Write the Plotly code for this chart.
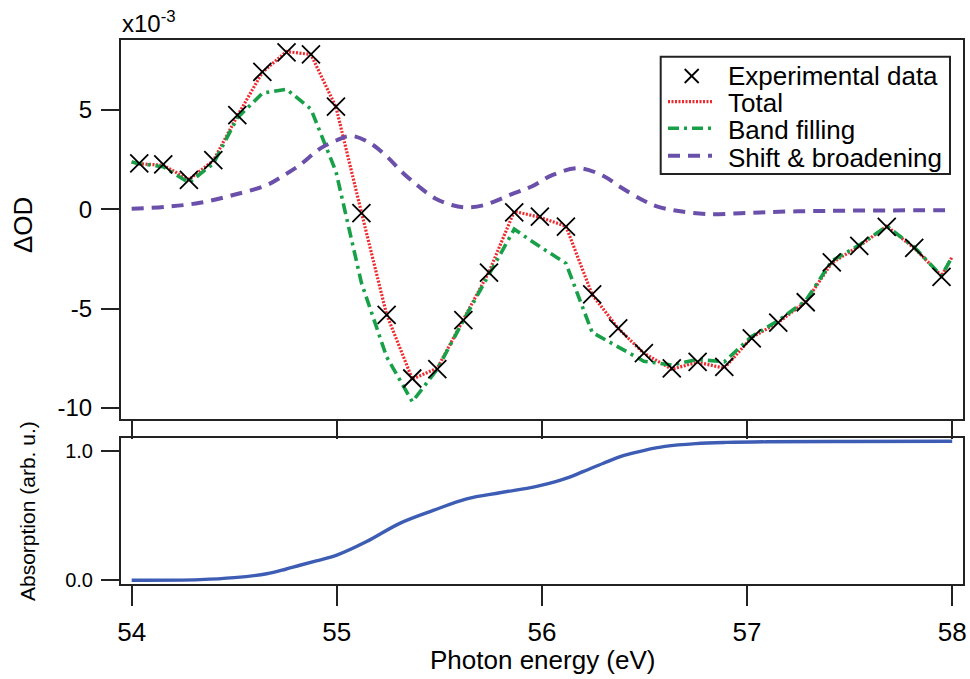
import plotly.graph_objects as go

# ---------------- data ----------------
energy_exp = [54.037, 54.154, 54.279, 54.398, 54.515, 54.637, 54.755, 54.874, 54.996, 55.120,
              55.243, 55.368, 55.490, 55.617, 55.742, 55.865, 55.990, 56.117, 56.245, 56.372,
              56.497, 56.633, 56.759, 56.889, 57.023, 57.152, 57.286, 57.413, 57.547, 57.681,
              57.815, 57.948]
dod_exp = [2.32, 2.27, 1.48, 2.48, 4.75, 6.93, 7.91, 7.81, 5.17, -0.19,
           -5.32, -8.52, -8.05, -5.58, -3.19, -0.15, -0.37, -0.87, -4.28, -5.99,
           -7.24, -8.01, -7.68, -7.93, -6.50, -5.71, -4.68, -2.67, -1.84, -0.88,
           -1.94, -3.40]

energy_model = [54.0] + energy_exp + [58.0]
dod_total = [2.38, 2.30, 2.22, 1.50, 2.45, 4.70, 6.90, 7.95, 7.80, 5.15, -0.15,
             -5.30, -8.55, -8.00, -5.55, -3.15, -0.10, -0.40, -0.85, -4.30, -6.00,
             -7.25, -8.05, -7.70, -8.00, -6.45, -5.70, -4.65, -2.70, -1.85, -0.85,
             -1.95, -3.35, -2.39]
dod_band = [2.38, 2.30, 2.15, 1.34, 2.30, 4.60, 5.85, 6.05, 5.05, 1.90, -3.70,
            -7.43, -9.69, -8.05, -5.60, -3.30, -1.00, -1.88, -2.72, -6.20, -6.92,
            -7.65, -7.84, -7.56, -7.68, -6.40, -5.60, -4.60, -2.60, -1.80, -0.85,
            -1.90, -3.35, -2.39]

energy_shift = [54.00, 54.17, 54.333, 54.495, 54.658, 54.74, 54.82, 54.92, 55.00, 55.07,
                55.16, 55.24, 55.32, 55.40, 55.48, 55.56, 55.63, 55.72, 55.85, 55.95,
                56.05, 56.18, 56.30, 56.38, 56.49, 56.56, 56.65, 56.80, 57.00, 57.20,
                57.45, 58.00]
dod_shift = [0.03, 0.13, 0.33, 0.72, 1.22, 1.70, 2.23, 3.07, 3.48, 3.70,
             3.35, 2.70, 1.86, 1.15, 0.55, 0.22, 0.10, 0.22, 0.75, 1.15,
             1.72, 2.07, 1.68, 1.14, 0.47, 0.15, -0.06, -0.24, -0.18, -0.11,
             -0.07, -0.04]

energy_abs = [54.00, 54.333, 54.50, 54.658, 54.75, 54.82, 54.90, 55.00, 55.143, 55.307,
              55.47, 55.633, 55.795, 55.958, 56.00, 56.12, 56.20, 56.30, 56.40, 56.50,
              56.60, 56.75, 56.90, 57.10, 57.50, 58.00]
absorption = [0.0, 0.005, 0.02, 0.05, 0.085, 0.116, 0.15, 0.194, 0.297, 0.44,
              0.54, 0.63, 0.677, 0.72, 0.735, 0.79, 0.84, 0.905, 0.965, 1.005,
              1.035, 1.057, 1.066, 1.071, 1.073, 1.075]

x_ticks = [54, 55, 56, 57, 58]
top_y_ticks = [-10, -5, 0, 5]
top_y_labels = ["-10", "-5", "0", "5"]
bot_y_ticks = [0.0, 1.0]
bot_y_labels = ["0.0", "1.0"]

series_names = ["Experimental data", "Total", "Band filling", "Shift & broadening"]
series_colors = ["black", "#ee2a2f", "#17a047", "#6a50aa"]
series_dash = [None, "2px,1.5px", "11px,5px,3px,5px", "12px,8px"]
series_width = [1.8, 3.2, 3.6, 4.0]

FONT = "Liberation Sans, Arial, Helvetica, sans-serif"
W, H = 970, 679

fig = go.Figure()

fig.add_trace(go.Scatter(
    x=energy_model, y=dod_total, mode="lines", name=series_names[1],
    line=dict(color=series_colors[1], width=series_width[1], dash=series_dash[1]),
    xaxis="x", yaxis="y"))
fig.add_trace(go.Scatter(
    x=energy_model, y=dod_band, mode="lines", name=series_names[2],
    line=dict(color=series_colors[2], width=series_width[2], dash=series_dash[2]),
    xaxis="x", yaxis="y"))
fig.add_trace(go.Scatter(
    x=energy_shift, y=dod_shift, mode="lines", name=series_names[3],
    line=dict(color=series_colors[3], width=series_width[3], dash=series_dash[3],
              shape="spline", smoothing=1.0),
    xaxis="x", yaxis="y"))
fig.add_trace(go.Scatter(
    x=energy_exp, y=dod_exp, mode="markers", name=series_names[0],
    marker=dict(symbol="x-thin", size=18, line=dict(color="black", width=series_width[0]),
                color="black"),
    xaxis="x", yaxis="y"))
fig.add_trace(go.Scatter(
    x=energy_abs, y=absorption, mode="lines", name="Absorption",
    line=dict(color="#3d5cb4", width=3.4, shape="spline", smoothing=1.0),
    xaxis="x2", yaxis="y2"))

x_dom = [121 / W, 963 / W]
x_rng = [53.948, 58.0527]
axis_common = dict(showline=True, linecolor="#222222", linewidth=2, mirror=True,
                   showgrid=False, zeroline=False, ticks="outside", tickcolor="#222222",
                   tickwidth=2, automargin=False)

fig.update_layout(
    width=W, height=H,
    margin=dict(l=0, r=0, t=0, b=0),
    paper_bgcolor="white", plot_bgcolor="white",
    font=dict(family=FONT, color="black"),
    showlegend=False,
    xaxis=dict(domain=x_dom, range=x_rng, anchor="y", tickvals=x_ticks,
               showticklabels=False, ticklen=18, **axis_common),
    yaxis=dict(domain=[1 - 419 / H, 1 - 40 / H], range=[-10.56, 8.53], anchor="x",
               tickvals=top_y_ticks, ticktext=top_y_labels, ticklen=18,
               tickfont=dict(size=24, family=FONT), ticklabelstandoff=4, **axis_common),
    xaxis2=dict(domain=x_dom, range=x_rng, anchor="y2", tickvals=x_ticks,
                ticktext=[str(v) for v in x_ticks], ticklen=20,
                tickfont=dict(size=26, family=FONT), ticklabelstandoff=4, **axis_common),
    yaxis2=dict(domain=[1 - 584 / H, 1 - 437.5 / H], range=[-0.029, 1.104], anchor="x2",
                tickvals=bot_y_ticks, ticktext=bot_y_labels, ticklen=18,
                tickfont=dict(size=20, family=FONT), ticklabelstandoff=4, **axis_common),
)

# axis titles and exponent label
fig.add_annotation(text="ΔOD", x=23 / W, y=1 - 225 / H, xref="paper", yref="paper",
                   textangle=-90, showarrow=False, font=dict(size=26, family=FONT),
                   xanchor="center", yanchor="middle")
fig.add_annotation(text="Absorption (arb. u.)", x=27 / W, y=1 - 511 / H, xref="paper", yref="paper",
                   textangle=-90, showarrow=False, font=dict(size=21, family=FONT),
                   xanchor="center", yanchor="middle")
fig.add_annotation(text="Photon energy (eV)", x=542 / W, y=1 - 660 / H, xref="paper", yref="paper",
                   showarrow=False, font=dict(size=26, family=FONT),
                   xanchor="center", yanchor="middle")
fig.add_annotation(text="x10<sup>-3</sup>", x=120 / W, y=1 - 22 / H, xref="paper", yref="paper",
                   showarrow=False, font=dict(size=24, family=FONT),
                   xanchor="left", yanchor="middle")

# ---------------- legend box (paper coordinates) ----------------
def px(x):
    return x / W

def py(y):
    return 1 - y / H

fig.add_shape(type="rect", xref="paper", yref="paper",
              x0=px(660.7), x1=px(950), y0=py(174), y1=py(56.7),
              line=dict(color="#222222", width=2), fillcolor="white", layer="above")

row_y = [76, 101.7, 128.3, 155.7]
text_y = [75.5, 103, 130, 157.5]
# cross glyph for the experimental data
cx, cy, hs = 691.7, row_y[0], 7
for (ax0, ay0, ax1, ay1) in [(cx - hs, cy - hs, cx + hs, cy + hs), (cx - hs, cy + hs, cx + hs, cy - hs)]:
    fig.add_shape(type="line", xref="paper", yref="paper",
                  x0=px(ax0), y0=py(ay0), x1=px(ax1), y1=py(ay1),
                  line=dict(color="black", width=series_width[0]), layer="above")
for i in range(1, 4):
    fig.add_shape(type="line", xref="paper", yref="paper",
                  x0=px(668), x1=px(712), y0=py(row_y[i]), y1=py(row_y[i]),
                  line=dict(color=series_colors[i], width=series_width[i], dash=series_dash[i]),
                  layer="above")
for i in range(4):
    fig.add_annotation(text=series_names[i].replace("&", "&amp;"), x=px(726), y=py(text_y[i]),
                       xref="paper", yref="paper", showarrow=False,
                       font=dict(size=26, family=FONT, color="black"),
                       xanchor="left", yanchor="middle")

fig.write_html("out.html")
